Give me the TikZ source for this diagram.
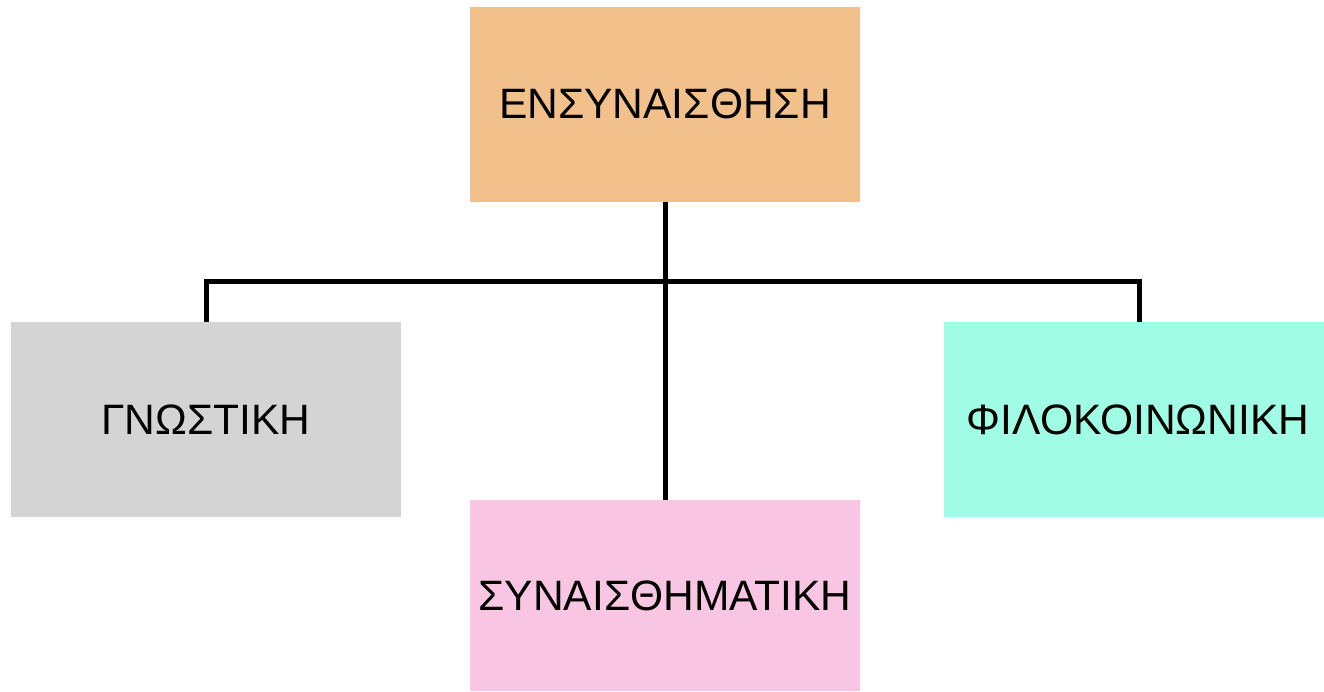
\documentclass[tikz,border=0pt]{standalone}
\usepackage{fontspec}
\setmainfont{Liberation Sans}
\definecolor{cTop}{HTML}{F2C18B}
\definecolor{cLeft}{HTML}{D4D4D4}
\definecolor{cRight}{HTML}{A0FCE4}
\definecolor{cBot}{HTML}{F8C6E2}
\begin{document}
\begin{tikzpicture}[x=1pt,y=-1pt,
  box/.style={draw=none,minimum width=390pt,minimum height=195pt,inner sep=0pt,anchor=center,font=\fontsize{42.5}{48}\selectfont},
  conn/.style={line width=5pt}]
\useasboundingbox (0,0) rectangle (1324,691);
\node[box,fill=cTop] (top) at (665,104) {ΕΝΣΥΝΑΙΣΘΗΣΗ};
\node[box,fill=cLeft] (left) at (206,419.5) {ΓΝΩΣΤΙΚΗ};
\node[box,fill=cRight,minimum width=380pt] (right) at (1134,419.5) {\hspace{8pt}ΦΙΛΟΚΟΙΝΩΝΙΚΗ};
\node[box,fill=cBot,minimum height=191pt] (bot) at (665,595.5) {ΣΥΝΑΙΣΘΗΜΑΤΙΚΗ};
\coordinate (hl) at (206,281);
\coordinate (hr) at (1139,281);
\draw[conn] (top.south) -- (bot.north);
\draw[conn] (left.north) -- (hl) -- (hr) -- (hr |- right.north);
\end{tikzpicture}
\end{document}
